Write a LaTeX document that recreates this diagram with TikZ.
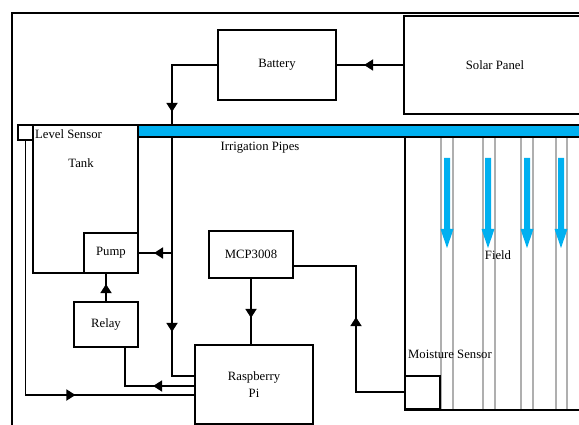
\documentclass[tikz,border=0pt]{standalone}
\usepackage{fontspec}
\setmainfont{Liberation Serif}
\usetikzlibrary{arrows.meta,decorations.markings}
\definecolor{pipeblue}{RGB}{0,176,240}
\definecolor{fieldgray}{RGB}{175,175,175}
\begin{document}
\begin{tikzpicture}[x=1pt,y=-1pt,
  box/.style={draw,line width=1.8pt,inner sep=0pt,fill=white,font=\fontsize{12.7}{17}\selectfont,align=center},
  wire/.style={line width=1.8pt},
  lbl/.style={inner sep=0pt,font=\fontsize{12.7}{15}\selectfont},
  tipat/.style={postaction={decorate,decoration={markings,mark=at position #1 with {\arrow{Triangle[length=9pt,width=11pt]}}}}},
  fieldline/.style={draw=fieldgray,line width=1.2pt},
  droparrow/.style={fill=pipeblue}
]
\useasboundingbox (0,0) rectangle (579,425);
\clip (0,0) rectangle (579,425);

% outer frame
\draw[wire] (12,430) -- (12,13) -- (590,13);

% field
\foreach \gx in {441,453,483,495,521,533,556,567}
  \draw[fieldline] (\gx,137) -- (\gx,410);
\foreach \ax in {447,488,527,561}
  \fill[droparrow] (\ax-3,158) -- (\ax+3,158) -- (\ax+3,229) -- (\ax+6.5,229) -- (\ax,248) -- (\ax-6.5,229) -- (\ax-3,229) -- cycle;
\draw[wire] (405,137) -- (405,410) -- (590,410);
\node[lbl] (fieldlbl) at (498,255) {Field};

% boxes
\node[box,minimum width=182pt,minimum height=98pt] (solar) at (495,65) {Solar Panel};
\node[box,minimum width=118pt,minimum height=70pt] (battery) at (277,65) {Battery};

% battery bus (drawn before the pipe)
\coordinate (bj) at (172,65);
\coordinate (bb) at (172,376);
\coordinate (pf) at (172,253);
\draw[wire,tipat=39pt] (solar.west) -- (battery.east);

\node[box,minimum width=118pt,minimum height=79pt] (pi) at (254,384.5) {Raspberry\\Pi};
\draw[wire,tipat=92pt,tipat=312pt] (battery.west) -- (bj) -- (bb) -- (bb -| pi.west);

% pipe
\draw[fill=pipeblue,line width=1.5pt] (138,125) rectangle (590,137);
\node[lbl] (pipelbl) at (260,148) {Irrigation Pipes};

% tank
\node[box,fill=none,minimum width=105pt,minimum height=148pt] (tank) at (85.5,199) {};
\node[lbl] (tanklbl) at (81,163) {Tank};
\node[box,minimum width=15pt,minimum height=15pt] (lvl) at (25.5,132.5) {};
\node[lbl,anchor=west] (lvllbl) at (35,134) {Level Sensor};
\node[box,minimum width=54pt,minimum height=40pt] (pump) at (111,253) {Pump};
\node[box,minimum width=64pt,minimum height=45pt] (relay) at (106,324.5) {Relay};
\node[box,minimum width=84pt,minimum height=47pt] (mcp) at (251,254.5) {MCP3008};
\node[box,minimum width=35pt,minimum height=33pt] (moist) at (422.5,392.5) {};
\node[lbl] (moistlbl) at (450,354) {Moisture Sensor};

% connectors
\draw[wire,tipat=18pt] (pf) -- (pf -| pump.east);
\coordinate (lc) at (25.5,395);
\draw[wire,tipat=304pt] (lvl.south) -- (lc) -- (lc -| pi.west);
\coordinate (rc) at (125,386);
\draw[wire,tipat=41pt] (rc -| pi.west) -- (rc) -- (rc |- relay.south);
\draw[wire,tipat=17pt] (relay.north) -- (relay.north |- pump.south);
\draw[wire,tipat=39pt] (mcp.south) -- (mcp.south |- pi.north);
\coordinate (mc) at (356,392);
\coordinate (mc2) at (356,266);
\draw[wire,tipat=123pt] (moist.west |- mc) -- (mc) -- (mc2) -- (mc2 -| mcp.east);
\end{tikzpicture}
\end{document}
